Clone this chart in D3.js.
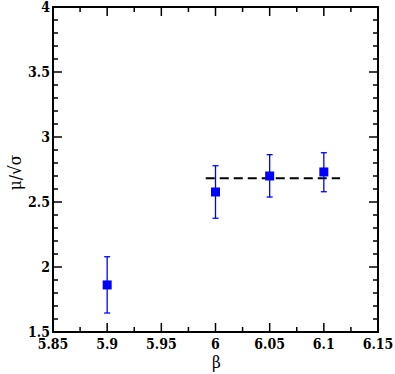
<!DOCTYPE html>
<html><head><meta charset="utf-8">
<script src="https://cdn.jsdelivr.net/npm/d3@7"></script>
<style>
body{margin:0;background:#fff}
svg text{font-family:"DejaVu Serif Condensed","DejaVu Serif",serif;font-stretch:condensed}
.tl{font-weight:700;font-size:14px}
.ttl{font-size:17px}
</style>
</head><body>
<svg id="c" width="395" height="374"></svg>
<script>
const betas = [5.9, 6.0, 6.05, 6.1];
const values = [1.862, 2.577, 2.700, 2.731];
const errLow = [1.646, 2.375, 2.538, 2.579];
const errHigh = [2.079, 2.779, 2.864, 2.879];
const fitX = [5.991, 6.115];
const fitY = [2.682, 2.682];
const xTicks = [5.85, 5.9, 5.95, 6.0, 6.05, 6.1, 6.15];
const xTickLabels = ["5.85", "5.9", "5.95", "6", "6.05", "6.1", "6.15"];
const yTicks = [1.5, 2, 2.5, 3, 3.5, 4];
const yTickLabels = ["1.5", "2", "2.5", "3", "3.5", "4"];

const L = 53, R = 378, T = 7, B = 332;
const x = d3.scaleLinear().domain([5.85, 6.15]).range([L, R]);
const y = d3.scaleLinear().domain([1.5, 4]).range([B, T]);
const svg = d3.select("#c");

const xMinor = d3.range(0, 13).map(i => 5.85 + i * 0.025).filter(v => !xTicks.some(t => Math.abs(t - v) < 1e-9));
const yMinor = d3.range(0, 26).map(i => 1.5 + i * 0.1).filter(v => !yTicks.some(t => Math.abs(t - v) < 1e-9));

const tk = svg.append("g").attr("stroke", "#000").attr("stroke-width", 1.5);
xTicks.forEach(v => {
  tk.append("line").attr("x1", x(v)).attr("x2", x(v)).attr("y1", B).attr("y2", B - 9);
  tk.append("line").attr("x1", x(v)).attr("x2", x(v)).attr("y1", T).attr("y2", T + 9);
});
xMinor.forEach(v => {
  tk.append("line").attr("x1", x(v)).attr("x2", x(v)).attr("y1", B).attr("y2", B - 5);
  tk.append("line").attr("x1", x(v)).attr("x2", x(v)).attr("y1", T).attr("y2", T + 5);
});
yTicks.forEach(v => {
  tk.append("line").attr("y1", y(v)).attr("y2", y(v)).attr("x1", L).attr("x2", L + 9);
  tk.append("line").attr("y1", y(v)).attr("y2", y(v)).attr("x1", R).attr("x2", R - 9);
});
yMinor.forEach(v => {
  tk.append("line").attr("y1", y(v)).attr("y2", y(v)).attr("x1", L).attr("x2", L + 5);
  tk.append("line").attr("y1", y(v)).attr("y2", y(v)).attr("x1", R).attr("x2", R - 5);
});

svg.append("rect").attr("x", L).attr("y", T).attr("width", R - L).attr("height", B - T)
  .attr("fill", "none").attr("stroke", "#000").attr("stroke-width", 2);

xTicks.forEach((v, i) => {
  svg.append("text").attr("class", "tl").attr("x", x(v)).attr("y", B + 17).attr("text-anchor", "middle")
    .text(xTickLabels[i]);
});
yTicks.forEach((v, i) => {
  svg.append("text").attr("class", "tl").attr("x", L - 3).attr("y", y(v) + 4.5).attr("text-anchor", "end")
    .text(yTickLabels[i]);
});

svg.append("text").attr("class", "ttl").attr("x", (L + R) / 2 + 1).attr("y", 368).attr("text-anchor", "middle").text("β");
svg.append("text").attr("class", "ttl").attr("transform", `translate(21,${(T + B) / 2 + 3}) rotate(-90)`)
  .attr("text-anchor", "middle").text("μ/√σ");

svg.append("line").attr("x1", x(fitX[0])).attr("x2", x(fitX[1])).attr("y1", y(fitY[0])).attr("y2", y(fitY[1]))
  .attr("stroke", "#000").attr("stroke-width", 2).attr("stroke-dasharray", "9,5");

const g = svg.append("g").attr("stroke", "#0000ff").attr("stroke-width", 1.3);
betas.forEach((b, i) => {
  g.append("line").attr("x1", x(b)).attr("x2", x(b)).attr("y1", y(errLow[i])).attr("y2", y(errHigh[i]));
  [errLow[i], errHigh[i]].forEach(e => {
    g.append("line").attr("x1", x(b) - 3).attr("x2", x(b) + 3).attr("y1", y(e)).attr("y2", y(e));
  });
});
svg.append("g").selectAll("rect").data(betas).join("rect")
  .attr("x", d => x(d) - 4.5).attr("y", (d, i) => y(values[i]) - 4.5)
  .attr("width", 9).attr("height", 9).attr("fill", "#0000ff");
</script>
</body></html>
